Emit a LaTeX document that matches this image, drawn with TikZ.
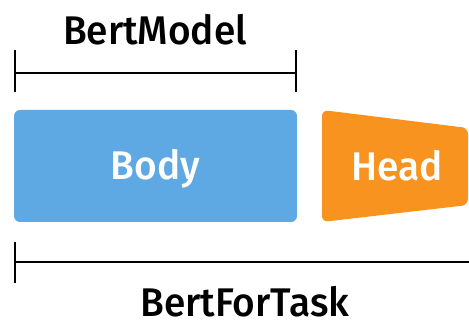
\documentclass[tikz,border=0pt]{standalone}
\usepackage{fontspec}
\setmainfont[FakeStretch=0.97]{Fira Sans Medium}
\usetikzlibrary{arrows.meta,positioning}
\definecolor{BodyBlue}{HTML}{5EA9E3}
\definecolor{HeadOrange}{HTML}{F7931E}

\begin{document}
\begin{tikzpicture}[
  x=1pt,y=-1pt,
  span/.style={line width=2.4pt,draw=black},
  label/.style={font=\fontsize{40}{42}\selectfont,text=black,anchor=base,inner sep=0pt},
  block/.style={font=\fontsize{40}{42}\selectfont,text=white,inner sep=0pt},
  bodybox/.style={fill=BodyBlue,rounded corners=6pt}
]
\useasboundingbox (0,0) rectangle (469,326);

% blocks
\fill[bodybox] (14,110) rectangle (297,222);
\node[block,anchor=base] (body) at (155.5,180) {Body};
\fill[HeadOrange,rounded corners=6pt]
  (322,110) -- (468,128) -- (468,205) -- (322,222) -- cycle;
\node[block,anchor=base] (head) at (397,181) {Head};

% brackets
\coordinate (m0) at (15,73);
\coordinate (m1) at (296,73);
\coordinate (t0) at (15,262);
\coordinate (t1) at (470,262);
\draw[span] (m0) -- (m1);
\draw[span] (15,50) -- (15,92);
\draw[span] (296,50) -- (296,92);
\draw[span] (t0) -- (t1);
\draw[span] (15,242) -- (15,283);

\node[label] (bertmodel) at (155,45) {BertModel};
\node[label] (bertfortask) at (245,316) {BertForTask};
\end{tikzpicture}
\end{document}
